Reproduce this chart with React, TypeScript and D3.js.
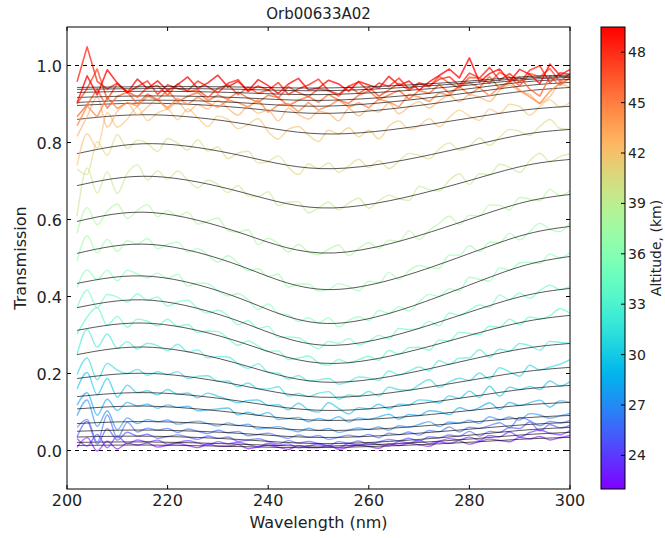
import React from "react";
import * as d3 from "d3";

// ---------- data ----------
const title = "Orb00633A02";
const xTicks = [200, 220, 240, 260, 280, 300];
const yTicks = [0.0, 0.2, 0.4, 0.6, 0.8, 1.0];
const cbTicks = [24, 27, 30, 33, 36, 39, 42, 45, 48];
const altitudeRange = [22.0, 49.5];

// altitude of each profile (km), lowest first
const altitudes = [22.0, 23.25, 24.5, 25.75, 27.0, 28.25, 29.5, 30.75, 32.0, 33.25, 34.5, 35.75, 37.0, 38.25, 39.5, 40.75, 42.0, 43.25, 44.5, 45.75, 47.0, 48.25, 49.5];

// fitted transmission at these wavelengths (nm)
const fitWavelengths = [202, 217, 235, 253, 275, 290, 300];
const fits = [
  [0.013, 0.014, 0.010, 0.008, 0.018, 0.029, 0.034],
  [0.021, 0.022, 0.016, 0.012, 0.025, 0.040, 0.047],
  [0.035, 0.037, 0.028, 0.018, 0.034, 0.052, 0.060],
  [0.050, 0.053, 0.044, 0.034, 0.050, 0.066, 0.073],
  [0.070, 0.075, 0.064, 0.052, 0.068, 0.084, 0.091],
  [0.108, 0.115, 0.096, 0.078, 0.097, 0.117, 0.125],
  [0.140, 0.150, 0.127, 0.104, 0.130, 0.158, 0.169],
  [0.187, 0.200, 0.168, 0.138, 0.171, 0.203, 0.216],
  [0.249, 0.268, 0.222, 0.177, 0.221, 0.263, 0.278],
  [0.312, 0.330, 0.279, 0.226, 0.281, 0.332, 0.351],
  [0.371, 0.390, 0.332, 0.273, 0.338, 0.399, 0.421],
  [0.434, 0.452, 0.392, 0.330, 0.405, 0.477, 0.504],
  [0.512, 0.535, 0.477, 0.418, 0.488, 0.557, 0.582],
  [0.595, 0.618, 0.563, 0.513, 0.579, 0.642, 0.665],
  [0.688, 0.712, 0.670, 0.630, 0.683, 0.737, 0.756],
  [0.771, 0.797, 0.765, 0.732, 0.776, 0.819, 0.834],
  [0.860, 0.872, 0.849, 0.822, 0.853, 0.883, 0.894],
  [0.896, 0.902, 0.890, 0.876, 0.905, 0.932, 0.943],
  [0.904, 0.910, 0.903, 0.895, 0.921, 0.946, 0.956],
  [0.917, 0.921, 0.916, 0.910, 0.932, 0.956, 0.964],
  [0.930, 0.933, 0.929, 0.925, 0.943, 0.962, 0.969],
  [0.938, 0.940, 0.938, 0.935, 0.950, 0.966, 0.972],
  [0.943, 0.945, 0.944, 0.942, 0.955, 0.970, 0.975],
];

// measured minus fitted, in 0.001 units, every 2 nm from 202 nm
const measStart = 202;
const measStep = 2;
const residuals = [
  [-5, 20, -15, 10, -10, 5, 0, 5, -5, 0, 5, 0, -5, 5, 0, 0, 5, -5, 0, 5, 0, -5, 5, 0, 0, 5, -5, 0, 5, 0, -5, 5, 0, 5, 0, -5, 5, 0, 5, -5, 0, 5, 0, -5, 5, 0, 5, -5, 0, 5],
  [10, -10, 20, -15, 15, -5, 5, 0, 5, -5, 0, 5, 0, -5, 5, 0, 5, 0, -5, 5, 0, 5, -5, 0, 5, 0, -5, 5, 0, 5, 0, -5, 5, 0, 5, -5, 0, 5, 0, 5, -5, 5, 0, 10, -5, 5, 10, 0, -5, 5],
  [0, 40, -20, 20, -10, 10, 0, 5, -5, 0, 5, 0, -5, 5, 0, 5, -5, 0, 5, 0, -5, 5, 0, 5, 0, -5, 5, 0, 5, -5, 0, 5, 0, 5, -5, 5, 0, 5, 0, 10, -5, 5, 0, 10, 5, 20, -5, 10, 0, 5],
  [10, 30, -30, 40, -20, 20, -5, 5, 0, 5, -5, 5, 0, -5, 5, 0, 5, -5, 0, 5, 0, -5, 5, 0, 5, -5, 0, 5, 0, 5, -5, 5, 0, 5, -5, 5, 0, 10, -5, 5, 0, 5, 10, -5, 20, 10, -5, 5, 0, 5],
  [20, 60, -10, 30, -20, 10, -5, 5, 0, 5, -5, 0, 5, 0, -5, 5, 0, 5, -5, 0, 5, 0, -5, 5, 0, 5, -5, 0, 5, 0, 5, -5, 5, 0, 5, 10, -5, 5, 0, 5, -5, 10, 0, 5, -5, 10, 5, -5, 0, 5],
  [10, 40, -20, 20, -10, 10, 0, 5, -5, 5, 0, 5, -5, 0, 5, 10, -5, 5, 0, 10, -5, 0, 5, -5, 5, 0, 10, -5, 5, 0, 5, 10, -5, 5, 0, 10, 5, -5, 10, 0, 5, 15, -5, 10, 0, 5, 10, -10, 5, 0],
  [20, 60, 0, 40, -10, 20, 0, 5, -5, 10, 0, 5, -5, 10, 5, 0, -5, 5, 10, 0, 5, -5, 15, 0, -5, 20, 5, -10, 5, 0, 10, -5, 5, 0, 10, 5, -5, 10, 0, 15, -5, 20, -10, 10, 0, 5, -5, 15, 0, 10],
  [10, 50, -10, 30, 10, 0, 10, -5, 5, 0, 10, -5, 5, 10, 0, 5, -5, 10, 0, 5, 15, -5, 5, 0, 10, 15, -5, 5, 0, 10, -5, 15, 5, 0, 10, 20, -5, 5, 10, 0, 15, -5, 20, 5, -10, 15, 0, 5, 10, 20],
  [0, 60, 10, 40, 0, 15, -5, 10, 5, -5, 15, 0, 10, -5, 5, 10, 0, -5, 15, 0, 5, -5, 10, 0, 5, 10, -5, 0, 10, 5, -5, 15, 0, 5, 10, -5, 15, 0, 10, 5, 20, -5, 10, 0, 15, 5, -10, 10, 5, 0],
  [-10, 30, 50, 0, 20, -10, 10, 5, -5, 15, 0, 10, -5, 5, 10, 0, -10, 10, 5, 0, 10, -5, 5, 15, 0, -5, 10, 0, 5, 10, -5, 15, 0, 10, 5, -10, 10, 0, 15, 5, -5, 10, 0, 15, -5, 10, 0, 5, 20, 5],
  [0, 40, -10, 20, 10, -5, 15, 0, 10, -10, 5, 15, 0, -5, 10, 5, -10, 10, 0, 15, -5, 5, 10, 0, -10, 10, 5, 15, -5, 0, 10, -5, 15, 5, 0, 10, -10, 15, 0, 5, 10, -5, 20, 0, 10, -10, 5, 15, 0, 5],
  [-10, 30, 0, 20, -10, 15, 5, -5, 10, 0, 15, -10, 5, 10, 0, -5, 10, 5, -10, 15, 0, 5, -5, 10, 0, 15, -10, 5, 10, -5, 15, 0, 10, -10, 5, 15, 0, 10, -5, 20, 5, -10, 15, 0, 10, 5, -5, 15, 0, 10],
  [-20, 40, -10, 20, -15, 10, 0, 15, -10, 5, 15, -5, 10, 0, -10, 15, 5, -5, 10, 0, 15, -10, 5, 10, -5, 0, 15, 5, -10, 10, 0, 20, -5, 10, 15, 0, -10, 15, 5, 20, -5, 10, 0, 15, -10, 5, 20, 0, -10, 10],
  [-30, 30, -20, 10, 25, -15, 5, 20, -10, 10, 0, 15, -10, 5, 20, -5, 0, 15, -15, 10, 5, -10, 15, 0, -5, 10, 20, -10, 5, 15, -5, 10, 0, 20, -10, 5, 15, 25, -5, 10, 0, 20, 10, -10, 15, 5, -5, 20, 0, 10],
  [-80, 40, -30, 20, -40, 10, 30, -10, 15, -5, 20, 0, -15, 10, 5, -10, 15, -5, 0, 20, -10, 5, 10, -15, 0, 15, -5, 10, 20, -10, 5, 15, 0, -10, 20, 5, -5, 15, 25, -10, 10, 0, 20, 5, -15, 10, 25, 0, 10, 15],
  [-40, -60, 20, -20, 30, -10, 10, 0, -20, 15, 5, -10, 20, -5, 10, -15, 5, 15, -10, 0, 20, -5, -20, 10, 0, 15, -10, 5, 20, -5, 10, -15, 0, 15, 5, -10, 10, 20, -5, 0, 15, -10, 5, 20, 10, -5, 15, 30, 5, 0],
  [-120, -40, -80, 10, -30, -10, 20, -15, 5, 15, -10, 20, 0, -20, 10, 5, -15, 0, 20, -10, -25, 5, 15, -5, -20, 10, 0, 15, -10, 5, -20, 10, 20, -5, 0, 15, -10, 10, 25, 5, -10, 15, 0, 20, 10, -15, 5, 20, 0, 10],
  [-80, -30, 20, -60, -20, 0, -30, -10, 10, -15, 5, -20, 0, -10, 15, -5, -20, 5, -10, 0, -25, 10, -5, -15, 5, 0, -20, 10, -10, 5, -5, 15, -15, 0, 10, -10, 5, 15, -5, 10, 0, -15, 10, 20, 0, -10, -35, -20, 10, 0],
  [-60, -10, -40, 10, -20, -5, -15, 10, 0, -20, 5, -10, 10, -5, -15, 5, 0, -10, 10, -20, 0, 5, -15, 10, -10, 0, 15, -5, 5, -10, 10, 0, -15, 15, 5, -10, 10, 0, 20, -5, 10, -15, 5, 15, -10, -30, -50, -20, 0, 10],
  [-50, -20, 20, -30, 0, 10, -20, 5, -10, 15, -15, 0, 10, -10, 5, -5, 15, 0, -10, 10, 5, -15, 0, 10, -5, 15, 0, -10, 10, 20, -5, 5, 15, -10, 10, 0, 20, -5, 10, 15, 0, 25, -10, 5, 15, -20, -40, 10, -15, 5],
  [-30, 10, 60, -20, 20, 0, -15, 10, 15, -10, 20, 0, 5, -15, 10, 20, -5, 15, 0, 10, -10, 20, 5, -5, 15, 10, -5, 20, 0, 15, -10, 5, 20, 0, 15, 5, 30, 10, -5, 20, 15, 0, 25, 10, -15, 15, 5, 25, -10, 10],
  [20, 110, 20, 0, 15, -10, 5, 20, -15, 10, 0, -5, 20, 5, -10, 15, 25, -5, 10, 0, 20, -10, 5, 15, 30, 0, -10, 10, 20, -5, 15, 5, 25, -5, 10, 0, 15, 20, -5, 25, 10, 35, 0, 15, -10, 20, 30, -15, 10, 5],
  [-40, 30, -20, 45, 10, -15, 20, -5, 15, -10, 5, 25, -5, 10, 30, 0, 15, -10, 20, 5, -15, 10, 25, -5, 0, 20, 10, -10, 15, 5, -5, 25, 0, 10, -15, 5, 20, 35, 10, 60, -5, 15, 25, -10, 20, 5, -20, 30, 0, 15],
];

// ---------- layout ----------
const W = 665, H = 538;
const PL = 67, PR = 570, PT = 27, PB = 489;
const CBL = 601, CBR = 625;
const FONT = "DejaVu Sans, sans-serif";

function rainbow(t: number): string {
  const c = (v: number) => Math.round(Math.max(0, Math.min(1, v)) * 255);
  const r = Math.abs(2 * t - 0.5);
  const g = Math.sin(Math.PI * t);
  const b = Math.cos((Math.PI * t) / 2);
  return `rgb(${c(r)},${c(g)},${c(b)})`;
}

// Same control points as d3.curveNatural, so residuals sit on the drawn fit
function naturalControls(v: number[]): [number[], number[]] {
  const n = v.length - 1;
  const a = new Array(n), b = new Array(n), r = new Array(n);
  a[0] = 0; b[0] = 2; r[0] = v[0] + 2 * v[1];
  for (let i = 1; i < n - 1; ++i) { a[i] = 1; b[i] = 4; r[i] = 4 * v[i] + 2 * v[i + 1]; }
  a[n - 1] = 2; b[n - 1] = 7; r[n - 1] = 8 * v[n - 1] + v[n];
  for (let i = 1; i < n; ++i) { const m = a[i] / b[i - 1]; b[i] -= m; r[i] -= m * r[i - 1]; }
  a[n - 1] = r[n - 1] / b[n - 1];
  for (let i = n - 2; i >= 0; --i) a[i] = (r[i] - a[i + 1]) / b[i];
  b[n - 1] = (v[n] + a[n - 1]) / 2;
  for (let i = 0; i < n - 1; ++i) b[i] = 2 * v[i + 1] - a[i + 1];
  return [a, b];
}
const bez = (p0: number, p1: number, p2: number, p3: number, t: number) => {
  const u = 1 - t;
  return u * u * u * p0 + 3 * u * u * t * p1 + 3 * u * t * t * p2 + t * t * t * p3;
};
function fitAt(vals: number[], w: number): number {
  const xs = fitWavelengths;
  const [xa, xb] = naturalControls(xs);
  const [ya, yb] = naturalControls(vals);
  let i = 0;
  while (i < xs.length - 2 && w > xs[i + 1]) i++;
  let lo = 0, hi = 1;
  for (let k = 0; k < 40; k++) {
    const mid = (lo + hi) / 2;
    if (bez(xs[i], xa[i], xb[i], xs[i + 1], mid) < w) lo = mid; else hi = mid;
  }
  const t = (lo + hi) / 2;
  return bez(vals[i], ya[i], yb[i], vals[i + 1], t);
}

export default function App() {
  const x = d3.scaleLinear().domain([200, 300]).range([PL, PR]);
  const y = d3.scaleLinear().domain([-0.1, 1.1]).range([PB, PT]);
  const cy = d3.scaleLinear().domain(altitudeRange).range([PB, PT]);
  const norm = d3.scaleLinear().domain(altitudeRange).range([0, 1]);

  const fitLine = d3
    .line<[number, number]>()
    .x((d) => x(d[0]))
    .y((d) => y(d[1]))
    .curve(d3.curveNatural);
  const measSmooth = d3
    .line<[number, number]>()
    .x((d) => x(d[0]))
    .y((d) => y(d[1]))
    .curve(d3.curveMonotoneX);
  const measJagged = d3
    .line<[number, number]>()
    .x((d) => x(d[0]))
    .y((d) => y(d[1]))
    .curve(d3.curveLinear);

  const gradStops = d3.range(0, 1.0001, 0.02);

  return (
    <svg
      width={W}
      height={H}
      style={{ position: "absolute", left: 0, top: 0, background: "#fff" }}
      fontFamily={FONT}
    >
      <defs>
        <clipPath id="plotClip">
          <rect x={PL} y={PT} width={PR - PL} height={PB - PT} />
        </clipPath>
        <linearGradient id="cbGrad" x1="0" y1="1" x2="0" y2="0">
          {gradStops.map((t) => (
            <stop key={t} offset={t} stopColor={rainbow(t)} />
          ))}
        </linearGradient>
      </defs>
      <rect x={0} y={0} width={W} height={H} fill="#fff" />

      <g clipPath="url(#plotClip)">
        {altitudes.map((alt, ci) => {
          const fv = fits[ci];
          const res = residuals[ci];
          const meas: [number, number][] = res.map((r, k) => {
            const w = measStart + measStep * k;
            return [w, fitAt(fv, w) + r / 1000];
          });
          const fitPts: [number, number][] = fitWavelengths.map((w, k) => [w, fv[k]]);
          const top = alt >= 44;
          return (
            <g key={alt}>
              <path
                d={(top ? measJagged(meas) : measSmooth(meas)) || ""}
                fill="none"
                stroke={rainbow(norm(alt))}
                strokeWidth={top ? 1.6 : 1.4}
                strokeOpacity={top ? 0.75 : 0.6}
                strokeLinejoin="round"
              />
              <path
                d={fitLine(fitPts) || ""}
                fill="none"
                stroke="#000"
                strokeWidth={1}
                strokeOpacity={0.65}
              />
            </g>
          );
        })}
        {[0, 1].map((v) => (
          <line
            key={v}
            x1={PL}
            x2={PR}
            y1={y(v)}
            y2={y(v)}
            stroke="#000"
            strokeWidth={1}
            strokeDasharray="4,4"
          />
        ))}
      </g>

      {/* frame */}
      <rect x={PL} y={PT} width={PR - PL} height={PB - PT} fill="none" stroke="#000" strokeWidth={1} />

      {/* x ticks */}
      {xTicks.map((t) => (
        <g key={t}>
          <line x1={x(t)} x2={x(t)} y1={PB} y2={PB - 4} stroke="#000" />
          <line x1={x(t)} x2={x(t)} y1={PT} y2={PT + 4} stroke="#000" />
          <text x={x(t)} y={PB + 17} fontSize={16} textAnchor="middle" fill="#222">
            {t}
          </text>
        </g>
      ))}
      {/* y ticks */}
      {yTicks.map((t) => (
        <g key={t}>
          <line x1={PL} x2={PL + 4} y1={y(t)} y2={y(t)} stroke="#000" />
          <line x1={PR} x2={PR - 4} y1={y(t)} y2={y(t)} stroke="#000" />
          <text x={PL - 5} y={y(t) + 6} fontSize={16} textAnchor="end" fill="#222">
            {t.toFixed(1)}
          </text>
        </g>
      ))}

      <text x={(PL + PR) / 2} y={19} fontSize={15} textAnchor="middle" fill="#222">
        {title}
      </text>
      <text x={(PL + PR) / 2} y={528} fontSize={16} textAnchor="middle" fill="#222">
        Wavelength (nm)
      </text>
      <text
        transform={`translate(26,${(PT + PB) / 2}) rotate(-90)`}
        fontSize={16}
        textAnchor="middle"
        fill="#222"
      >
        Transmission
      </text>

      {/* colorbar */}
      <rect x={CBL} y={PT} width={CBR - CBL} height={PB - PT} fill="url(#cbGrad)" />
      <rect x={CBL} y={PT} width={CBR - CBL} height={PB - PT} fill="none" stroke="#000" strokeWidth={1} />
      {cbTicks.map((t) => (
        <g key={t}>
          <line x1={CBR} x2={CBR - 4} y1={cy(t)} y2={cy(t)} stroke="#000" />
          <text x={CBR + 3} y={cy(t) + 5} fontSize={14} fill="#222">
            {t}
          </text>
        </g>
      ))}
      <text
        transform={`translate(661,${(PT + PB) / 2 - 10}) rotate(-90)`}
        fontSize={14}
        textAnchor="middle"
        fill="#222"
      >
        Altitude, (km)
      </text>
    </svg>
  );
}
